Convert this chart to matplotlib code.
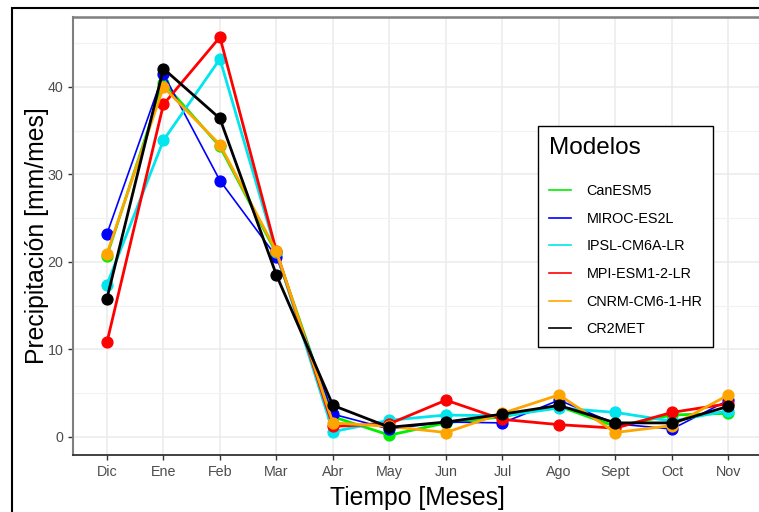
import matplotlib
matplotlib.use("Agg")
import matplotlib.pyplot as plt
from matplotlib.patches import Rectangle

plt.rcParams['font.family'] = ['Liberation Sans', 'DejaVu Sans']

meses = ["Dic", "Ene", "Feb", "Mar", "Abr", "May", "Jun", "Jul", "Ago", "Sept", "Oct", "Nov"]

canesm5 = [20.7, 40.5, 33.2, 21.0, 2.3, 0.2, 1.6, 2.3, 3.5, 1.2, 2.5, 2.7]
miroc = [23.2, 41.5, 29.3, 20.6, 2.6, 0.9, 1.7, 1.6, 4.2, 1.5, 0.9, 4.2]
ipsl = [17.4, 33.9, 43.2, 21.1, 0.6, 1.9, 2.5, 2.4, 3.3, 2.8, 1.8, 3.0]
mpi = [10.8, 38.0, 45.7, 21.2, 1.2, 1.5, 4.2, 2.0, 1.4, 1.0, 2.8, 3.8]
cnrm = [20.9, 40.0, 33.4, 21.2, 1.6, 1.2, 0.5, 2.7, 4.8, 0.5, 1.3, 4.8]
cr2met = [15.8, 42.1, 36.4, 18.5, 3.6, 1.1, 1.7, 2.6, 3.6, 1.6, 1.6, 3.5]

series = [("CanESM5", canesm5, "#00ee00", 2.0),
          ("MIROC-ES2L", miroc, "#0000ff", 1.2),
          ("IPSL-CM6A-LR", ipsl, "#00e5ee", 2.0),
          ("MPI-ESM1-2-LR", mpi, "#ff0000", 2.0),
          ("CNRM-CM6-1-HR", cnrm, "#ffa500", 2.0),
          ("CR2MET", cr2met, "#000000", 2.0)]

W, H = 759, 512
fig = plt.figure(figsize=(W / 100, H / 100), dpi=100)
ax = fig.add_axes([73 / W, 57 / H, (762.4 - 73) / W, (455 - 17) / H])

x = list(range(len(meses)))
for nombre, vals, col, lw in series:
    ax.plot(x, vals, color=col, lw=lw, marker="o", markersize=7.8, label=nombre, zorder=3)

ax.set_xlim(-0.6, len(meses) - 1 + 0.6)
ax.set_ylim(-2.07, 48.0)
ax.set_xticks(x)
ax.set_xticklabels(meses)
ax.set_yticks([0, 10, 20, 30, 40])
ax.set_yticks([5, 15, 25, 35, 45], minor=True)
ax.grid(which="major", color="#ebebeb", lw=1.1)
ax.grid(which="minor", axis="y", color="#f2f2f2", lw=0.8)
ax.set_axisbelow(True)
ax.tick_params(axis="both", which="major", colors="#333333", labelcolor="#4d4d4d",
               labelsize=10.3, length=3.5, width=1)
ax.tick_params(axis="y", which="minor", length=0)

ax.spines["right"].set_visible(False)
ax.spines["top"].set_color("#7f7f7f")
ax.spines["top"].set_linewidth(1.8)
ax.spines["left"].set_color("#7f7f7f")
ax.spines["left"].set_linewidth(1.5)
ax.spines["bottom"].set_color("#333333")
ax.spines["bottom"].set_linewidth(1.3)

ax.set_xlabel("Tiempo [Meses]", fontsize=17.8, labelpad=5)
ax.set_ylabel("Precipitación [mm/mes]", fontsize=17.8, labelpad=-1)

leg_handles = [plt.Line2D([0], [0], color=c, lw=1.2) for _, _, c, _ in series]
leg = ax.legend(leg_handles, [s[0] for s in series], title="Modelos",
                loc="upper left", bbox_to_anchor=(538 / W, 1 - 126 / H),
                bbox_transform=fig.transFigure, fontsize=10.4, title_fontsize=17.5,
                frameon=True, fancybox=False, edgecolor="black", framealpha=1,
                labelspacing=0.95, handlelength=1.5, handletextpad=1.1,
                borderpad=0.75, borderaxespad=0)
leg.get_frame().set_linewidth(1.0)
leg._legend_box.align = "left"
leg._legend_box.sep = 18

fig.add_artist(Rectangle((12 / W, -0.1), 1.2, 1.1 - 8 / H, transform=fig.transFigure,
                         fill=False, edgecolor="black", lw=1.5, clip_on=False))

fig.savefig("out.png", dpi=100)
